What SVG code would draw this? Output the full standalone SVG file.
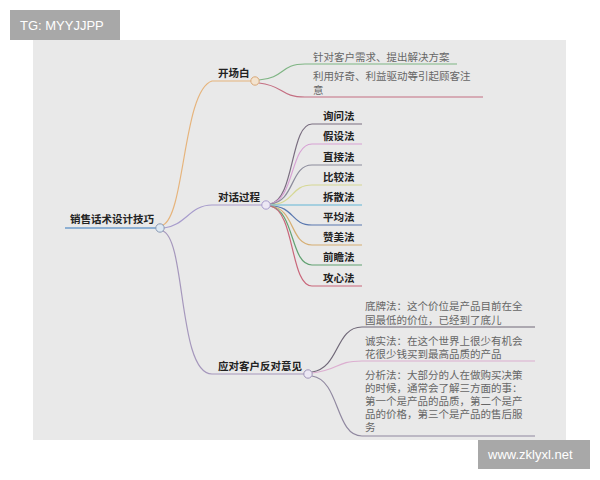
<svg xmlns="http://www.w3.org/2000/svg" width="600" height="480" viewBox="0 0 600 480">
<style>
.b{font-family:"Liberation Sans","Noto Sans CJK SC",sans-serif;font-size:10.5px;font-weight:bold;fill:#222}
.t{font-family:"Liberation Sans","Noto Sans CJK SC",sans-serif;font-size:10.5px;fill:#666}
.w{font-family:"Liberation Sans","DejaVu Sans",sans-serif;font-size:13px;fill:#fff}
.c{fill:none;stroke-width:1.2}
</style>
<rect width="600" height="480" fill="#fff"/>
<rect x="33" y="40" width="533" height="400" fill="#e9e9e9"/>
<g id="connectors">
<path class="c" stroke="#e6b47c" d="M163,225 C185,215 183,90 212,81 L251,81"/>
<path class="c" stroke="#a79ccc" d="M164,228 C185,226 190,205 212,205 L262,205"/>
<path class="c" stroke="#a597bc" d="M163,231 C186,240 178,374 212,374 L304,374"/>
<path class="c" stroke="#7fb584" d="M259,80 C285,78 280,64 305,64 L457,64"/>
<path class="c" stroke="#c46f82" d="M259,83 C285,86 280,97 305,97 L483,97"/>
<path class="c" stroke="#7a6e80" d="M270,204 C295,200 290,124 312,124 L362,124"/>
<path class="c" stroke="#d7a2d4" d="M270,204 C295,200 290,144 312,144 L362,144"/>
<path class="c" stroke="#8c8c9c" d="M270,204 C295,202 290,165 312,165 L362,165"/>
<path class="c" stroke="#d6d894" d="M270,205 C295,204 290,185 312,185 L362,185"/>
<path class="c" stroke="#62b6d6" d="M270,205 L362,205"/>
<path class="c" stroke="#5a78b0" d="M270,206 C295,206 290,225 312,225 L362,225"/>
<path class="c" stroke="#d6ae72" d="M270,206 C295,208 290,245 312,245 L362,245"/>
<path class="c" stroke="#62a272" d="M270,206 C295,210 290,265 312,265 L362,265"/>
<path class="c" stroke="#c9667a" d="M270,206 C295,210 290,286 312,286 L362,286"/>
<path class="c" stroke="#706878" d="M312,372 C340,368 335,327 362,327 L535,327"/>
<path class="c" stroke="#dcaed0" d="M312,373 C340,370 335,361 362,361 L535,361"/>
<path class="c" stroke="#9088a0" d="M312,376 C340,380 335,436 362,436 L535,436"/>
<path stroke="#6f9ccb" stroke-width="1.5" d="M65,228 L156,228"/>
</g>
<g id="root">
<circle cx="160" cy="228" r="4.2" fill="#dde8f2" stroke="#8a9ab4" stroke-width="1"/>
<text class="b" x="70" y="223">销售话术设计技巧</text>
</g>
<g id="kaichangbai">
<circle cx="255" cy="81" r="4.2" fill="#f3e3cf" stroke="#d9a878" stroke-width="1"/>
<text class="b" x="218" y="77">开场白</text>
</g>
<g id="k1"><text class="t" x="313" y="61">针对客户需求、提出解决方案</text></g>
<g id="k2"><text class="t" x="313" y="80">利用好奇、利益驱动等引起顾客注</text><text class="t" x="313" y="94">意</text></g>
<g id="duihua">
<circle cx="266" cy="205" r="4.2" fill="#ece8f4" stroke="#a79ccc" stroke-width="1"/>
<text class="b" x="218" y="201">对话过程</text>
</g>
<g id="d1"><text class="b" x="323" y="120">询问法</text></g>
<g id="d2"><text class="b" x="323" y="140">假设法</text></g>
<g id="d3"><text class="b" x="323" y="161">直接法</text></g>
<g id="d4"><text class="b" x="323" y="181">比较法</text></g>
<g id="d5"><text class="b" x="323" y="201">拆散法</text></g>
<g id="d6"><text class="b" x="323" y="221">平均法</text></g>
<g id="d7"><text class="b" x="323" y="241">赞美法</text></g>
<g id="d8"><text class="b" x="323" y="261">前瞻法</text></g>
<g id="d9"><text class="b" x="323" y="282">攻心法</text></g>
<g id="yingdui">
<circle cx="308" cy="374" r="4.2" fill="#ece8f4" stroke="#9f94b8" stroke-width="1"/>
<text class="b" x="218" y="370">应对客户反对意见</text>
</g>
<g id="y1"><text class="t" x="365" y="309.5">底牌法：这个价位是产品目前在全</text><text class="t" x="365" y="323.5">国最低的价位，已经到了底儿</text></g>
<g id="y2"><text class="t" x="365" y="344.5">诚实法：在这个世界上很少有机会</text><text class="t" x="365" y="357.5">花很少钱买到最高品质的产品</text></g>
<g id="y3">
<text class="t" x="365" y="379">分析法：大部分的人在做购买决策</text>
<text class="t" x="365" y="392">的时候，通常会了解三方面的事：</text>
<text class="t" x="365" y="405">第一个是产品的品质，第二个是产</text>
<text class="t" x="365" y="418">品的价格，第三个是产品的售后服</text>
<text class="t" x="365" y="431">务</text>
</g>
<rect x="10" y="10" width="110" height="30" fill="#a8a8a8"/>
<text class="w" x="20" y="30">TG: MYYJJPP</text>
<rect x="478" y="440" width="112" height="29" fill="#a8a8a8"/>
<text class="w" x="488" y="459">www.zklyxl.net</text>
</svg>
